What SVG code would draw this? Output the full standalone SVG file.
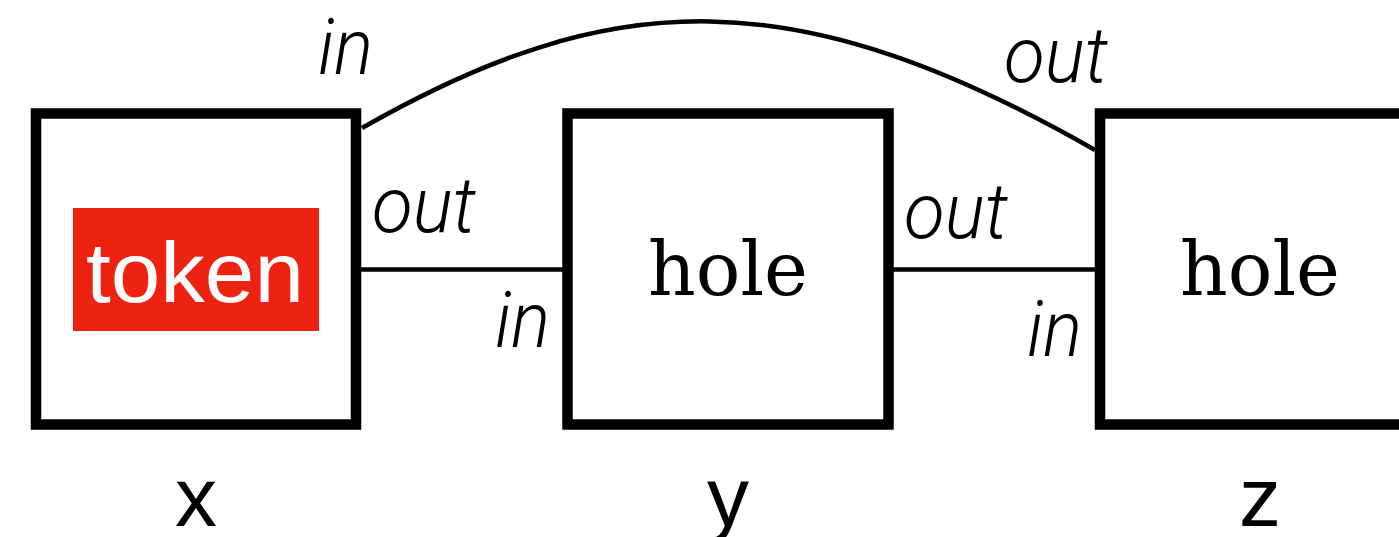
<svg xmlns="http://www.w3.org/2000/svg" width="1399" height="537" viewBox="0 0 1399 537">
  <style>
    .box { fill: #ffffff; stroke: #000000; stroke-width: 10.5; }
    .wire { fill: none; stroke: #000000; stroke-width: 4.5; }
    .port { font-family: Roboto, "Liberation Sans", sans-serif; font-style: italic; font-weight: 300; font-size: 78px; fill: #000000; }
    .hole { font-family: "DejaVu Serif", "Liberation Serif", serif; font-size: 74px; fill: #000000; }
    .token { font-family: "Liberation Sans", Arial, sans-serif; font-size: 86px; fill: #ffffff; }
    .name { font-family: "Liberation Sans", Arial, sans-serif; font-size: 84px; fill: #000000; text-anchor: middle; }
  </style>
  <g id="connectors">
    <line class="wire" x1="361" y1="269.5" x2="563" y2="269.5"/>
    <line class="wire" x1="893" y1="269.5" x2="1095" y2="269.5"/>
    <path class="wire" d="M 362 128 C 612 -14.5, 795 -21, 1095 150"/>
  </g>
  <g id="node-x">
    <rect class="box" x="36" y="113.5" width="320" height="311"/>
    <rect x="73" y="208" width="246" height="123" fill="#ee2210"/>
    <text class="token" x="86" y="302" textLength="218" lengthAdjust="spacingAndGlyphs">token</text>
    <text class="name" x="196" y="526">x</text>
  </g>
  <g id="node-y">
    <rect class="box" x="567.5" y="113.5" width="321" height="311"/>
    <text class="hole" x="648" y="295" textLength="160" lengthAdjust="spacingAndGlyphs">hole</text>
    <text class="name" x="728" y="526">y</text>
  </g>
  <g id="node-z">
    <rect class="box" x="1100" y="113.5" width="321" height="311"/>
    <text class="hole" x="1180" y="295" textLength="160" lengthAdjust="spacingAndGlyphs">hole</text>
    <text class="name" x="1260" y="526">z</text>
  </g>
  <g id="port-labels">
    <text class="port" x="318" y="74" textLength="55" lengthAdjust="spacingAndGlyphs">in</text>
    <text class="port" x="372" y="232" textLength="104" lengthAdjust="spacingAndGlyphs">out</text>
    <text class="port" x="495" y="347" textLength="55" lengthAdjust="spacingAndGlyphs">in</text>
    <text class="port" x="904" y="238" textLength="104" lengthAdjust="spacingAndGlyphs">out</text>
    <text class="port" x="1004" y="82" textLength="104" lengthAdjust="spacingAndGlyphs">out</text>
    <text class="port" x="1027" y="356" textLength="55" lengthAdjust="spacingAndGlyphs">in</text>
  </g>
</svg>
